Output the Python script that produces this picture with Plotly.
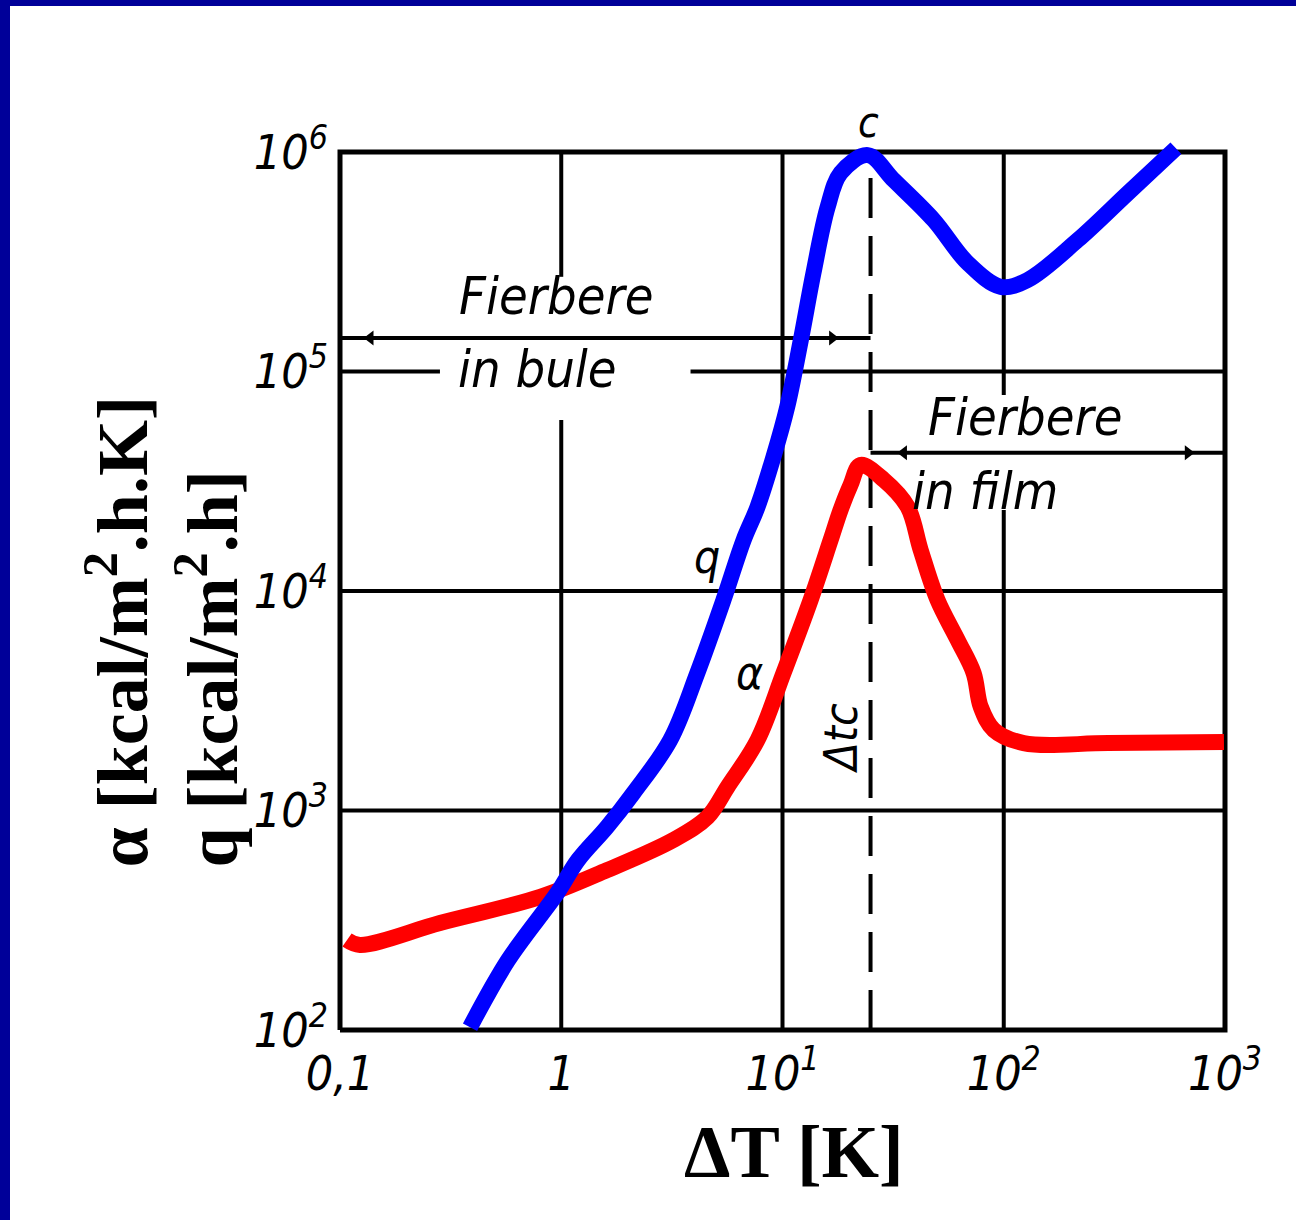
import math
import plotly.graph_objects as go

# ---------------- data ----------------
# heat flux q  [kcal/m2.h]
q_dT = [0.387, 0.575, 0.959, 1.19, 1.61, 2.12, 3.11, 4.12, 5.41, 6.67, 7.71, 9.10,
        10.5, 12.1, 13.8, 16.0, 18.3, 24.3, 31.8, 48.2, 68.7, 96.9, 128, 216, 364, 600]
q_val = [103, 208, 421, 594, 841, 1202, 2095, 4227, 9100, 17060, 24150, 40800,
         68900, 139000, 281000, 561000, 802000, 968000, 745000, 490000, 312000, 243000,
         261000, 397000, 650000, 1040000]

# heat transfer coefficient alpha [kcal/m2.h.K]
a_dT = [0.1076, 0.123, 0.283, 0.804, 1.61, 3.21, 4.58, 5.64, 7.71, 10.1, 13.4,
        16.5, 18.3, 20.3, 22.5, 28.7, 36.8, 42.1, 50.2, 61.9, 73.1, 78.7, 90.2, 123, 296, 989]
a_val = [257, 244, 307, 404, 535, 734, 933, 1279, 2095, 4227, 9100,
         17060, 23400, 30400, 37500, 32100, 24150, 15400, 9100, 5980, 4227, 2963, 2328,
         2028, 2028, 2051]

x_ticks = [0.1, 1, 10, 100, 1000]
x_ticktext = ["0,1", "1", "10<sup>1</sup>", "10<sup>2</sup>", "10<sup>3</sup>"]
y_ticks = [1e2, 1e3, 1e4, 1e5, 1e6]
y_ticktext = ["10<sup>2</sup>", "10<sup>3</sup>", "10<sup>4</sup>", "10<sup>5</sup>", "10<sup>6</sup>"]

dT_crit = 25.0          # critical temperature difference (dashed line)
nucleate_arrow_q = 142000
film_arrow_q = 42600

# ---------------- layout geometry ----------------
W, H = 1296, 1220
ML, MR, MT, MB = 329, 60, 141, 179
XR = [-1.0497, 3.0497]
YR = [1.9499, 6.0501]
PW, PH = W - ML - MR, H - MT - MB

def px2paper(xp, yp):
    return (xp - ML) / PW, 1 - (yp - MT) / PH

HAND = "Liberation Sans Narrow, DejaVu Sans Condensed, DejaVu Sans"
SERIF = "Liberation Serif, Times New Roman, serif"

fig = go.Figure()

def seg(xs, ys, width=4, dash="solid"):
    fig.add_trace(go.Scatter(x=xs, y=ys, mode="lines",
                             line=dict(color="black", width=width, dash=dash),
                             hoverinfo="skip", showlegend=False))

# frame
seg([0.1, 1000, 1000, 0.1, 0.1], [1e2, 1e2, 1e6, 1e6, 1e2], width=5)
# horizontal grid
seg([0.1, 1000], [1e3, 1e3])
seg([0.1, 1000], [1e4, 1e4])
seg([0.1, 0.283, None, 3.84, 1000], [1e5, 1e5, None, 1e5, 1e5])
# vertical grid
seg([1, 1, None, 1, 1], [1e2, 60100, None, 270000, 1e6])
seg([10, 10], [1e2, 1e6])
seg([100, 100, None, 100, 100], [1e2, 23400, None, 78200, 1e6])
# regime arrows
seg([0.1, dT_crit], [nucleate_arrow_q, nucleate_arrow_q], width=4)
seg([dT_crit, 1000], [film_arrow_q, film_arrow_q], width=4)
fig.add_trace(go.Scatter(x=[0.137, 16.8, 35.3, 681],
                         y=[nucleate_arrow_q, nucleate_arrow_q, film_arrow_q, film_arrow_q],
                         mode="markers",
                         marker=dict(symbol=["triangle-left", "triangle-right", "triangle-left", "triangle-right"],
                                     size=13, color="black"),
                         hoverinfo="skip", showlegend=False))
# critical dashed line
seg([dT_crit, dT_crit], [1e2, 1e6], width=4, dash="40px,18px")

# curves
fig.add_trace(go.Scatter(x=a_dT, y=a_val, mode="lines", name="α",
                         line=dict(color="#ff0000", width=16, shape="spline", smoothing=1.0),
                         showlegend=False))
fig.add_trace(go.Scatter(x=q_dT, y=q_val, mode="lines", name="q",
                         line=dict(color="#0000ff", width=16, shape="spline", smoothing=1.0),
                         showlegend=False))

ann = []
def hand_text(text, xv, yv, size=48, **kw):
    d = dict(text=text, x=math.log10(xv), y=math.log10(yv), xref="x", yref="y",
             showarrow=False, font=dict(family=HAND, size=size, color="black", style="italic"))
    d.update(kw)
    ann.append(d)

hand_text("Fierbere", 0.95, 220000, size=52)
hand_text("in bule", 0.78, 103000, size=52)
hand_text("Fierbere", 125, 62000, size=52)
hand_text("in film", 82, 28500, size=52)
hand_text("q", 4.55, 14300, size=46)
hand_text("α", 7.1, 4227, size=46)
hand_text("Δtc", 18.3, 2140, size=46, textangle=-90)

def paper_text(text, xp, yp, font, **kw):
    px, py = px2paper(xp, yp)
    d = dict(text=text, x=px, y=py, xref="paper", yref="paper", showarrow=False, font=font)
    d.update(kw)
    ann.append(d)

paper_text("c", 868, 122, dict(family=HAND, size=42, color="black", style="italic"),
           xanchor="center", yanchor="middle")

# axis titles
paper_text("<b>ΔT [K]</b>", 794, 1152, dict(family=SERIF, size=74, color="black"),
           xanchor="center", yanchor="middle")
paper_text("<b>α [kcal/m<sup>2</sup>.h.K]</b>", 117, 870, dict(family=SERIF, size=72, color="black"),
           textangle=-90, yanchor="bottom", xanchor="center")
paper_text("<b>q [kcal/m<sup>2</sup>.h]</b>", 207, 870, dict(family=SERIF, size=72, color="black"),
           textangle=-90, yanchor="bottom", xanchor="center")

# dark blue border (top and left)
bx0, by0 = px2paper(0, 0)
bx1, by1 = px2paper(W, 6)
bx2, by2 = px2paper(10, H)
shapes = [
    dict(type="rect", xref="paper", yref="paper", x0=bx0, y0=by1, x1=bx1, y1=by0,
         fillcolor="#000099", line=dict(width=0), layer="above"),
    dict(type="rect", xref="paper", yref="paper", x0=bx0, y0=by2, x1=bx2, y1=by0,
         fillcolor="#000099", line=dict(width=0), layer="above"),
]

fig.update_layout(
    width=W, height=H,
    margin=dict(l=ML, r=MR, t=MT, b=MB, pad=0),
    paper_bgcolor="white", plot_bgcolor="white",
    annotations=ann, shapes=shapes,
    xaxis=dict(type="log", range=XR, showgrid=False, zeroline=False, showline=False,
               tickvals=x_ticks, ticktext=x_ticktext, ticks="",
               tickfont=dict(family=HAND, size=48, color="black", style="italic")),
    yaxis=dict(type="log", range=YR, showgrid=False, zeroline=False, showline=False,
               tickvals=y_ticks, ticktext=y_ticktext, ticks="",
               tickfont=dict(family=HAND, size=48, color="black", style="italic")),
)

fig.write_html("out.html", config={"displayModeBar": False},
               post_script="document.body.style.margin='0px';document.body.style.overflow='hidden';")
